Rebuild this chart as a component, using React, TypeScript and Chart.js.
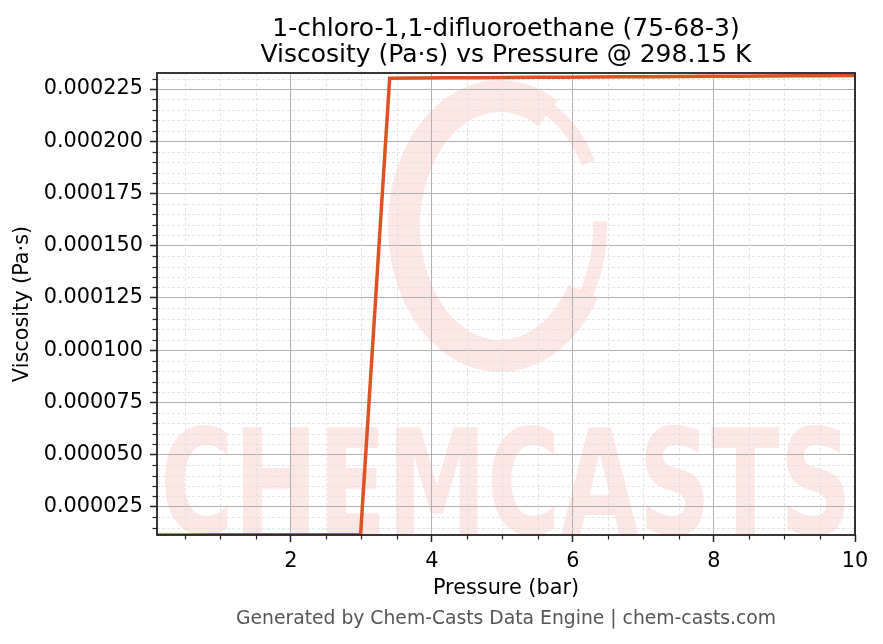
import { useEffect, useRef } from "react";
import { Chart, registerables } from "chart.js";

Chart.register(...registerables);

const titleLines = ["1-chloro-1,1-difluoroethane (75-68-3)", "Viscosity (Pa·s) vs Pressure @ 298.15 K"];
const xAxisTitle = "Pressure (bar)";
const yAxisTitle = "Viscosity (Pa·s)";
const footerText = "Generated by Chem-Casts Data Engine | chem-casts.com";
const watermarkText = "CHEMCASTS";

const pressureBar = [
  0.1, 0.5125, 0.925, 1.3375, 1.75, 2.1625, 2.575, 2.9875, 3.4, 3.8125, 4.225, 4.6375, 5.05,
  5.4625, 5.875, 6.2875, 6.7, 7.1125, 7.525, 7.9375, 8.35, 8.7625, 9.175, 9.5875, 10,
];
const viscosityPaS = [
  0.00001158, 0.00001158, 0.00001159, 0.00001159, 0.0000116, 0.0000116, 0.00001161, 0.00001161,
  0.00023017, 0.00023025, 0.00023033, 0.00023041, 0.00023049, 0.00023057, 0.00023065, 0.00023073,
  0.00023082, 0.0002309, 0.00023098, 0.00023106, 0.00023114, 0.00023122, 0.0002313, 0.00023138,
  0.00023146,
];
const xRange = [0.1, 10];
const yRange = [0.00001153, 0.00023266];
const xMajorTicks = [2, 4, 6, 8, 10];
const xMinorTicks = [0.5, 1, 1.5, 2.5, 3, 3.5, 4.5, 5, 5.5, 6.5, 7, 7.5, 8.5, 9, 9.5];
const yMajorTicks = [
  0.000025, 0.00005, 0.000075, 0.0001, 0.000125, 0.00015, 0.000175, 0.0002, 0.000225,
];
const yMinorTicks = [
  0.000015, 0.00002, 0.00003, 0.000035, 0.00004, 0.000045, 0.000055, 0.00006, 0.000065, 0.00007,
  0.00008, 0.000085, 0.00009, 0.000095, 0.000105, 0.00011, 0.000115, 0.00012, 0.00013, 0.000135,
  0.00014, 0.000145, 0.000155, 0.00016, 0.000165, 0.00017, 0.00018, 0.000185, 0.00019, 0.000195,
  0.000205, 0.00021, 0.000215, 0.00022, 0.00023,
];

const FONT = "'DejaVu Sans', sans-serif";
const WM = "rgba(240,60,40,0.12)";

const decorPlugin = {
  id: "decor",
  beforeDraw(chart: any) {
    const { ctx, chartArea: a } = chart;
    ctx.save();
    ctx.beginPath();
    ctx.rect(a.left, a.top, a.right - a.left, a.bottom - a.top);
    ctx.clip();
    // logo swirl: thick ring, thinner tails at the right
    ctx.strokeStyle = WM;
    ctx.lineCap = "butt";
    ctx.lineWidth = 32;
    ctx.beginPath();
    ctx.ellipse(500, 226, 96, 130, 0, (-60 * Math.PI) / 180, (30 * Math.PI) / 180, true);
    ctx.stroke();
    ctx.lineWidth = 14;
    ctx.beginPath();
    ctx.ellipse(500, 226, 100, 134, 0, (-60 * Math.PI) / 180, (-28 * Math.PI) / 180, false);
    ctx.stroke();
    ctx.beginPath();
    ctx.ellipse(500, 226, 100, 134, 0, (30 * Math.PI) / 180, (-2 * Math.PI) / 180, true);
    ctx.stroke();
    // text
    ctx.fillStyle = WM;
    ctx.font = `bold 146px 'DejaVu Sans', sans-serif`;
    ctx.textBaseline = "alphabetic";
    ctx.textAlign = "left";
    const w = ctx.measureText(watermarkText).width;
    const target = 692;
    ctx.translate(160, 534);
    ctx.scale(target / w, 1);
    ctx.fillText(watermarkText, 0, 0);
    ctx.restore();
  },
  beforeDatasetsDraw(chart: any) {
    const { ctx, chartArea: a, scales } = chart;
    ctx.save();
    ctx.strokeStyle = "#dedede";
    ctx.lineWidth = 0.8;
    ctx.setLineDash([3, 2]);
    for (const v of xMinorTicks) {
      const x = Math.round(scales.x.getPixelForValue(v)) + 0.5;
      ctx.beginPath();
      ctx.moveTo(x, a.top);
      ctx.lineTo(x, a.bottom);
      ctx.stroke();
    }
    for (const v of yMinorTicks) {
      const y = Math.round(scales.y.getPixelForValue(v)) + 0.5;
      ctx.beginPath();
      ctx.moveTo(a.left, y);
      ctx.lineTo(a.right, y);
      ctx.stroke();
    }
    ctx.restore();
  },
  afterDatasetsDraw(chart: any) {
    const { ctx, chartArea: a, scales } = chart;
    ctx.save();
    ctx.strokeStyle = "#222";
    ctx.lineWidth = 1.2;
    for (const v of xMinorTicks) {
      const x = Math.round(scales.x.getPixelForValue(v)) + 0.5;
      ctx.beginPath();
      ctx.moveTo(x, a.bottom);
      ctx.lineTo(x, a.bottom + 4.5);
      ctx.stroke();
    }
    for (const v of yMinorTicks) {
      const y = Math.round(scales.y.getPixelForValue(v)) + 0.5;
      ctx.beginPath();
      ctx.moveTo(a.left, y);
      ctx.lineTo(a.left - 4.5, y);
      ctx.stroke();
    }
    ctx.lineWidth = 1.8;
    ctx.strokeRect(a.left, a.top, a.right - a.left, a.bottom - a.top);
    ctx.restore();
  },
  afterDraw(chart: any) {
    const { ctx, chartArea: a } = chart;
    const cx = (a.left + a.right) / 2;
    ctx.save();
    ctx.textAlign = "center";
    ctx.textBaseline = "alphabetic";
    ctx.fillStyle = "#000";
    ctx.font = `25px ${FONT}`;
    ctx.fillText(titleLines[0], cx, 36);
    ctx.fillText(titleLines[1], cx, 62);
    ctx.fillStyle = "#555";
    ctx.font = `18.75px ${FONT}`;
    ctx.textBaseline = "middle";
    ctx.fillText(footerText, cx, 619);
    ctx.restore();
  },
};

export default function App() {
  const ref = useRef<HTMLCanvasElement | null>(null);
  useEffect(() => {
    if (!ref.current) return;
    const tickFont = { family: FONT, size: 20.8 };
    const chart = new Chart(ref.current, {
      type: "line",
      data: {
        datasets: [
          {
            data: pressureBar.map((p, i) => ({ x: p, y: viscosityPaS[i] })),
            borderColor: "#DC5323",
            borderWidth: 3.5,
            pointRadius: 0,
            tension: 0,
            fill: false,
          },
        ],
      },
      options: {
        responsive: false,
        animation: false,
        events: [],
        layout: { padding: { top: 73, left: 7, right: 28, bottom: 37 } },
        plugins: { legend: { display: false }, tooltip: { enabled: false }, title: { display: false } },
        scales: {
          x: {
            type: "linear",
            min: xRange[0],
            max: xRange[1],
            afterBuildTicks: (s: any) => {
              s.ticks = xMajorTicks.map((v) => ({ value: v }));
            },
            afterFit: (s: any) => {
              s.height = 72;
            },
            ticks: {
              autoSkip: false,
              maxRotation: 0,
              padding: 7,
              color: "#000",
              font: tickFont,
              callback: (v: any) => String(v),
            },
            grid: { color: "#b0b0b0", lineWidth: 1, tickLength: 7, tickColor: "#222", tickWidth: 1.5 },
            border: { display: false },
            title: {
              display: true,
              text: xAxisTitle,
              color: "#000",
              font: tickFont,
              padding: { top: 0, bottom: 5.5 },
            },
          },
          y: {
            type: "linear",
            min: yRange[0],
            max: yRange[1],
            afterBuildTicks: (s: any) => {
              s.ticks = yMajorTicks.map((v) => ({ value: v }));
            },
            afterFit: (s: any) => {
              s.width = 150;
            },
            ticks: {
              autoSkip: false,
              padding: 7,
              color: "#000",
              font: tickFont,
              callback: (v: any) => Number(v).toFixed(6),
            },
            grid: { color: "#b0b0b0", lineWidth: 1, tickLength: 7, tickColor: "#222", tickWidth: 1.5 },
            border: { display: false },
            title: {
              display: true,
              text: yAxisTitle,
              color: "#000",
              font: tickFont,
              padding: { top: 3, bottom: 0 },
            },
          },
        },
      },
      plugins: [decorPlugin],
    });
    return () => chart.destroy();
  }, []);
  return (
    <div style={{ position: "absolute", left: 0, top: 0, width: 883, height: 644, background: "#fff" }}>
      <canvas ref={ref} width={883} height={644} style={{ width: 883, height: 644 }} />
    </div>
  );
}
